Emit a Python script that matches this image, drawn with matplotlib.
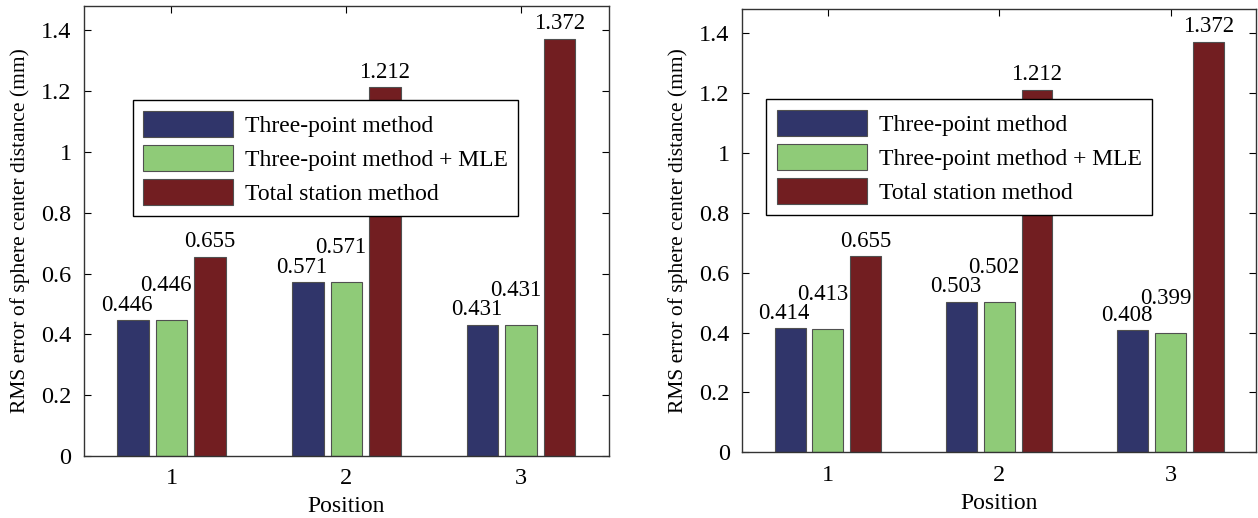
import numpy as np
import matplotlib
matplotlib.use("Agg")
import matplotlib.pyplot as plt

plt.rcParams["font.family"] = ["Liberation Serif", "DejaVu Serif"]

positions = [1, 2, 3]
methods = ["Three-point method", "Three-point method + MLE", "Total station method"]
colors = ["#30356a", "#8fcb78", "#721e21"]

# left panel
left_three = [0.446, 0.571, 0.431]
left_mle = [0.446, 0.571, 0.431]
left_total = [0.655, 1.212, 1.372]

# right panel
right_three = [0.414, 0.503, 0.408]
right_mle = [0.413, 0.502, 0.399]
right_total = [0.655, 1.212, 1.372]

ylabel = "RMS error of sphere center distance (mm)"


def draw_panel(ax, series, leg_anchor):
    x = np.array(positions, dtype=float)
    offs = [-0.22, 0.0, 0.22]
    lab_dx = [-0.035, -0.03, 0.0]
    lab_dy = [0.015, 0.08, 0.015]
    for vals, off, col, name, dx, dy in zip(series, offs, colors, methods, lab_dx, lab_dy):
        ax.bar(x + off, vals, width=0.18, color=col, edgecolor="#505050",
               linewidth=0.8, label=name, zorder=2)
        for xi, v in zip(x + off, vals):
            ax.text(xi + dx, v + dy, f"{v:.3f}", ha="center", va="bottom",
                    fontsize=16.5, zorder=3)
    ax.set_xlim(0.5, 3.5)
    ax.set_ylim(0, 1.48)
    ax.set_xticks(positions)
    ax.set_yticks([0, 0.2, 0.4, 0.6, 0.8, 1.0, 1.2, 1.4])
    ax.set_yticklabels(["0", "0.2", "0.4", "0.6", "0.8", "1", "1.2", "1.4"])
    ax.tick_params(direction="in", top=True, right=True, labelsize=17.5,
                   length=5, width=0.8, pad=9)
    for s in ax.spines.values():
        s.set_linewidth(1.0)
        s.set_color("#333333")
    ax.set_xlabel("Position", fontsize=17, labelpad=5)
    ax.set_ylabel(ylabel, fontsize=15.5, labelpad=8)
    leg = ax.legend(loc="upper left", bbox_to_anchor=leg_anchor, fontsize=17,
                    handlelength=3.8, handleheight=1.35, labelspacing=0.32,
                    borderpad=0.45, borderaxespad=0, handletextpad=0.5,
                    fancybox=False, framealpha=1, edgecolor="black")
    leg.get_frame().set_linewidth(1.0)
    leg.set_zorder(5)


fig = plt.figure(figsize=(12.58, 5.18), dpi=100)
ax1 = fig.add_axes([0.0668, 0.1197, 0.417, 0.869])
ax2 = fig.add_axes([0.590, 0.127, 0.4086, 0.855])

draw_panel(ax1, [left_three, left_mle, left_total], (0.093, 0.791))
draw_panel(ax2, [right_three, right_mle, right_total], (0.047, 0.797))

fig.savefig("out.png", dpi=100)
